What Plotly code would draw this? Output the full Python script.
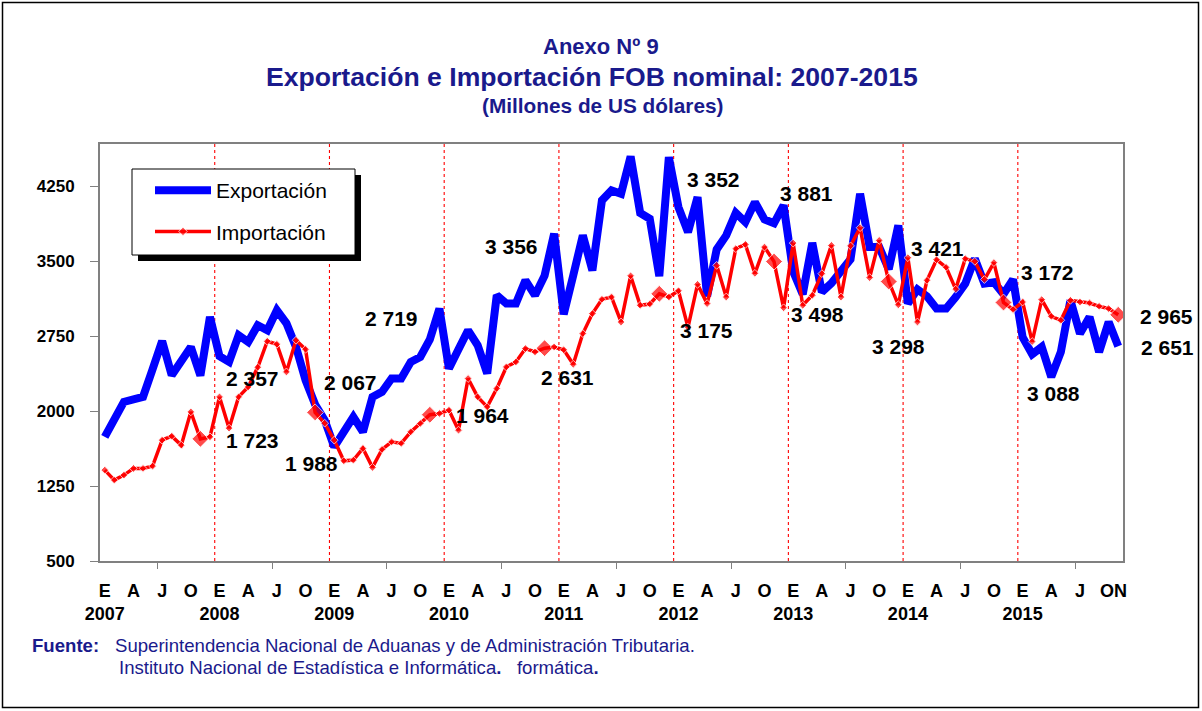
import plotly.graph_objects as go

# Monthly FOB values, millions of US dollars (January 2007 - November 2015)
years = [2007, 2008, 2009, 2010, 2011, 2012, 2013, 2014, 2015]
month_letters = ["E", "F", "M", "A", "M", "J", "J", "A", "S", "O", "N", "D"]

exportacion = [
    1743, 1910, 2093, 2117, 2143, 2420, 2703, 2360, 2510, 2643, 2357, 2943,
    2550, 2493, 2760, 2693, 2860, 2810, 3010, 2880, 2643, 2310, 2067, 1910,
    1643, 1810, 1943, 1793, 2143, 2193, 2327, 2327, 2493, 2543, 2719, 3027,
    2427, 2620, 2810, 2660, 2377, 3160, 3077, 3077, 3310, 3160, 3356, 3777,
    2970, 3360, 3760, 3410, 4110, 4210, 4177, 4550, 3985, 3927, 3352, 4543,
    4043, 3793, 4143, 3150, 3620, 3760, 3985, 3893, 4093, 3920, 3881, 4060,
    3400, 3170, 3685, 3193, 3280, 3400, 3520, 4177, 3643, 3643, 3421, 3860,
    3077, 3220, 3150, 3027, 3027, 3143, 3277, 3527, 3277, 3290, 3172, 3320,
    2740, 2570, 2643, 2343, 2593, 3110, 2777, 2943, 2593, 2893, 2651,
]

importacion = [
    1410, 1310, 1360, 1427, 1427, 1450, 1710, 1750, 1660, 1993, 1723, 1743,
    2143, 1830, 2143, 2243, 2440, 2700, 2670, 2393, 2710, 2620, 1988, 1880,
    1710, 1503, 1510, 1627, 1437, 1617, 1693, 1677, 1793, 1877, 1964, 1977,
    2010, 1810, 2327, 2143, 2043, 2227, 2443, 2493, 2627, 2593, 2631, 2643,
    2615, 2470, 2777, 2977, 3120, 3143, 2893, 3355, 3060, 3073, 3175, 3143,
    3205, 2840, 3270, 3077, 3460, 3143, 3627, 3670, 3380, 3643, 3498, 3035,
    3683, 3060, 3160, 3377, 3660, 3143, 3655, 3837, 3337, 3710, 3298, 3065,
    3537, 2893, 3310, 3517, 3440, 3222, 3527, 3500, 3318, 3488, 3088, 3018,
    3093, 2697, 3117, 2950, 2910, 3110, 3093, 3083, 3050, 3027, 2965,
]

y_ticks = [500, 1250, 2000, 2750, 3500, 4250]

# November of every year carries a value label; offsets are in pixels
label_month = 10
exp_label_shift = [(52, -3), (35, 22), (-38, 21), (-33, 29), (54, 97),
                   (32, 30), (49, 21), (44, 22), (49, -1)]
imp_label_shift = [(52, -2), (-4, -51), (53, -1), (23, -29), (47, -37),
                   (43, -53), (10, -65), (50, -91), (48, -2)]

NAVY = "#1A1A8C"
FONT = "Liberation Sans, Arial, sans-serif"

n = len(exportacion)
x = list(range(n))

fig = go.Figure()

fig.add_trace(go.Scatter(
    x=x, y=exportacion, name="Exportación", mode="lines", legendgroup="exp",
    line=dict(color="#0000FF", width=8),
))

imp_marker_size = [13 if i % 12 == label_month else 6 for i in x]
fig.add_trace(go.Scatter(
    x=x, y=importacion, name="Importación", mode="lines+markers", legendgroup="imp",
    line=dict(color="#FF0000", width=3.5),
    marker=dict(symbol="diamond", size=imp_marker_size, color="#FF0000"),
))

# Tick labels: E, A, J, O for each year (year printed below January);
# the last two months (October, November) share one "ON" label
tickvals, ticktext = [], []
for k, yr in enumerate(years):
    for m in (0, 3, 6, 9):
        idx = k * 12 + m
        if idx >= n:
            continue
        if m == 9 and idx + 1 == n - 1:
            tickvals.append(idx + 0.5)
            ticktext.append(month_letters[m] + month_letters[m + 1])
            continue
        tickvals.append(idx)
        ticktext.append(month_letters[m] + (f"<br>{yr}" if m == 0 else ""))

mid_year_ticks = [k * 12 + 5.5 for k in range(len(years)) if k * 12 + 5.5 < n - 0.5]

# Dotted red separators between years
shapes = []
for k in range(1, len(years)):
    xb = k * 12 - 0.5
    shapes.append(dict(type="line", xref="x", yref="paper", x0=xb, x1=xb, y0=0, y1=1,
                       line=dict(color="#FF0000", width=1.1, dash="dot"), layer="below"))


def px_x(p):
    return (p - 100) / 1023


def px_y(p):
    return (561 - p) / 417


# Legend frame with drop shadow, and the outer frame
shapes.append(dict(type="rect", xref="paper", yref="paper",
                   x0=px_x(138), x1=px_x(361), y0=px_y(261), y1=px_y(175),
                   fillcolor="black", line=dict(width=0), layer="above"))
shapes.append(dict(type="rect", xref="paper", yref="paper",
                   x0=px_x(132), x1=px_x(355), y0=px_y(255), y1=px_y(169),
                   fillcolor="white", line=dict(color="black", width=1), layer="above"))
shapes.append(dict(type="rect", xref="paper", yref="paper",
                   x0=px_x(2.5), x1=px_x(1198.5), y0=px_y(707.5), y1=px_y(2.5),
                   line=dict(color="black", width=1.5)))


def fmt(v):
    return f"{v:,}".replace(",", " ")


annotations = []
for k in range(len(years)):
    idx = k * 12 + label_month
    if idx >= n:
        continue
    for series, shift in ((exportacion, exp_label_shift[k]), (importacion, imp_label_shift[k])):
        annotations.append(dict(
            x=idx, y=series[idx], xref="x", yref="y", text=fmt(series[idx]),
            showarrow=False, xshift=shift[0], yshift=shift[1],
            xanchor="center", yanchor="middle",
            font=dict(family=FONT, size=21, color="black", weight="bold"),
        ))

# Titles
annotations += [
    dict(x=px_x(601), y=px_y(47), xref="paper", yref="paper", text="<b>Anexo Nº 9</b>",
         xanchor="center", yanchor="middle",
         showarrow=False, font=dict(family=FONT, size=22, color=NAVY)),
    dict(x=px_x(592), y=px_y(77), xref="paper", yref="paper",
         text="<b>Exportación e Importación FOB nominal: 2007-2015</b>",
         xanchor="center", yanchor="middle",
         showarrow=False, font=dict(family=FONT, size=26.6, color=NAVY)),
    dict(x=px_x(603), y=px_y(106), xref="paper", yref="paper",
         text="<b>(Millones de US dólares)</b>",
         xanchor="center", yanchor="middle",
         showarrow=False, font=dict(family=FONT, size=20.8, color=NAVY)),
]

# Source note
annotations += [
    dict(x=px_x(30), y=px_y(645), xref="paper", yref="paper", xanchor="left", yanchor="middle",
         text="<b>Fuente:</b>", showarrow=False,
         font=dict(family=FONT, size=18.6, color=NAVY)),
    dict(x=px_x(113), y=px_y(645), xref="paper", yref="paper", xanchor="left", yanchor="middle",
         text="Superintendencia Nacional de Aduanas y de Administración Tributaria.",
         showarrow=False, font=dict(family=FONT, size=18.6, color=NAVY)),
    dict(x=px_x(117), y=px_y(667), xref="paper", yref="paper", xanchor="left", yanchor="middle",
         text="Instituto Nacional de Estadística e Informática<b>.</b>   formática<b>.</b>",
         showarrow=False, font=dict(family=FONT, size=18.6, color=NAVY)),
]

fig.update_layout(
    width=1202, height=711,
    margin=dict(l=100, r=79, t=144, b=150),
    paper_bgcolor="white", plot_bgcolor="white",
    font=dict(family=FONT, color="black"),
    showlegend=True,
    legend=dict(
        x=px_x(150), y=px_y(170), xanchor="left", yanchor="top",
        bgcolor="rgba(0,0,0,0)", borderwidth=0,
        font=dict(family=FONT, size=21, color="black"),
        itemwidth=56, tracegroupgap=11,
    ),
    shapes=shapes,
    annotations=annotations,
)

fig.update_xaxes(
    range=[-0.5, n - 0.5],
    tickmode="array", tickvals=tickvals, ticktext=ticktext, tickangle=0,
    ticks="", ticklabelstandoff=12,
    tickfont=dict(family=FONT, size=18, color="black", weight="bold"),
    showgrid=False, zeroline=False,
    showline=True, linecolor="#808080", linewidth=2, mirror=True,
    minor=dict(tickmode="array", tickvals=mid_year_ticks, ticks="outside",
               ticklen=6, tickcolor="#808080", tickwidth=1, showgrid=False),
)

fig.update_yaxes(
    range=[500, 4675],
    tickmode="array", tickvals=y_ticks,
    ticks="outside", ticklen=8, tickcolor="#808080", tickwidth=1,
    ticklabelstandoff=12,
    tickfont=dict(family=FONT, size=17, color="black", weight="bold"),
    showgrid=False, zeroline=False,
    showline=True, linecolor="#808080", linewidth=2, mirror=True,
)

fig.write_html("out.html")
